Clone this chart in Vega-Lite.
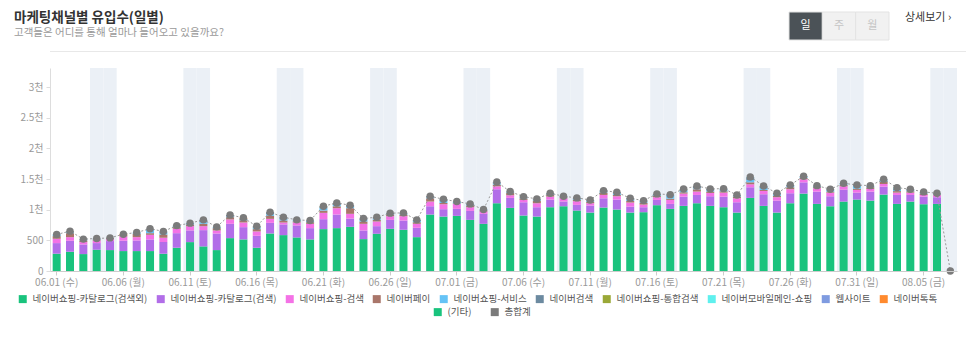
{
 "$schema": "https://vega.github.io/schema/vega-lite/v6.json",
 "background": "white",
 "padding": {"left": 14, "top": 11, "right": 0, "bottom": 0},
 "datasets": {
  "days": [
   {"d":"06.01 (수)","w":0,"a":282,"b":173,"c":70,"d2":44,"e":27},
   {"d":"06.02 (목)","w":0,"a":314,"b":179,"c":59,"d2":65,"e":15,"f":13,"g":5},
   {"d":"06.03 (금)","w":0,"a":276,"b":157,"c":38,"d2":27,"e":12,"f":10},
   {"d":"06.04 (토)","w":1,"a":347,"b":108,"c":43,"d2":17,"e":10,"f":5},
   {"d":"06.05 (일)","w":1,"a":341,"b":147,"c":32,"d2":16,"e":4},
   {"d":"06.06 (월)","w":0,"a":325,"b":168,"c":70,"d2":27,"j":10},
   {"d":"06.07 (화)","w":0,"a":325,"b":173,"c":54,"d2":55,"e":21},
   {"d":"06.08 (수)","w":0,"a":325,"b":190,"c":75,"d2":27,"e":58,"f":15},
   {"d":"06.09 (목)","w":0,"a":282,"b":189,"c":70,"d2":55,"e":32,"f":12,"i":6},
   {"d":"06.10 (금)","w":0,"a":379,"b":238,"c":71,"d2":27,"e":16,"f":9},
   {"d":"06.11 (토)","w":1,"a":471,"b":190,"c":70,"d2":27,"e":22},
   {"d":"06.12 (일)","w":1,"a":401,"b":265,"c":65,"d2":38,"f":38,"e":27},
   {"d":"06.13 (월)","w":0,"a":341,"b":271,"c":49,"d2":38,"e":21},
   {"d":"06.14 (화)","w":0,"a":536,"b":233,"c":71,"d2":38,"f":21,"e":16},
   {"d":"06.15 (수)","w":0,"a":515,"b":200,"c":76,"d2":32,"j":12,"f":32},
   {"d":"06.16 (목)","w":0,"a":379,"b":195,"c":71,"d2":38,"f":21,"e":26},
   {"d":"06.17 (금)","w":0,"a":612,"b":173,"c":65,"d2":49,"f":33,"e":27},
   {"d":"06.18 (토)","w":1,"a":585,"b":173,"c":33,"d2":32,"f":33,"e":21},
   {"d":"06.19 (일)","w":1,"a":547,"b":195,"c":49,"d2":20,"e":23},
   {"d":"06.20 (월)","w":0,"a":515,"b":184,"c":70,"d2":27,"e":27},
   {"d":"06.21 (화)","w":0,"a":683,"b":162,"c":103,"d2":38,"e":38,"f":27,"g":6},
   {"d":"06.22 (수)","w":0,"a":699,"b":222,"c":103,"d2":32,"e":20,"f":34},
   {"d":"06.23 (목)","w":0,"a":720,"b":136,"c":76,"d2":92,"f":27,"e":22},
   {"d":"06.24 (금)","w":0,"a":520,"b":141,"c":108,"d2":38,"e":27,"f":22},
   {"d":"06.25 (토)","w":1,"a":607,"b":124,"c":76,"d2":27,"e":20,"f":23},
   {"d":"06.26 (일)","w":1,"a":688,"b":146,"c":60,"d2":27,"e":12,"f":10},
   {"d":"06.27 (월)","w":0,"a":672,"b":151,"c":71,"d2":21,"e":20,"f":13},
   {"d":"06.28 (화)","w":0,"a":552,"b":152,"c":65,"d2":27,"e":20,"f":18},
   {"d":"06.29 (수)","w":0,"a":921,"b":135,"c":76,"d2":54,"e":15,"f":18},
   {"d":"06.30 (목)","w":0,"a":888,"b":120,"c":81,"d2":20,"e":32,"f":29},
   {"d":"07.01 (금)","w":0,"a":899,"b":114,"c":81,"d2":10,"e":22,"f":6},
   {"d":"07.02 (토)","w":1,"a":834,"b":146,"c":60,"d2":27,"e":15,"f":12},
   {"d":"07.03 (일)","w":1,"a":769,"b":163,"c":38,"d2":20,"e":12},
   {"d":"07.04 (월)","w":0,"a":1105,"b":228,"c":48,"d2":27,"e":20,"f":18,"i":6},
   {"d":"07.05 (화)","w":0,"a":1029,"b":163,"c":43,"d2":38,"e":12,"f":10},
   {"d":"07.06 (수)","w":0,"a":905,"b":216,"c":38,"d2":25,"e":15,"f":14},
   {"d":"07.07 (목)","w":0,"a":888,"b":152,"c":65,"d2":40,"e":20,"f":10},
   {"d":"07.08 (금)","w":0,"a":1040,"b":125,"c":48,"d2":27,"e":15,"f":13},
   {"d":"07.09 (토)","w":1,"a":1056,"b":76,"c":54,"d2":15,"e":10,"f":8},
   {"d":"07.10 (일)","w":1,"a":986,"b":92,"c":60,"d2":21,"e":18,"f":15},
   {"d":"07.11 (월)","w":0,"a":953,"b":114,"c":38,"d2":22,"e":18,"f":14},
   {"d":"07.12 (화)","w":0,"a":1035,"b":151,"c":54,"d2":38,"e":18,"f":15},
   {"d":"07.13 (수)","w":0,"a":1002,"b":163,"c":54,"d2":20,"e":27,"f":18},
   {"d":"07.14 (목)","w":0,"a":953,"b":98,"c":65,"d2":25,"e":27,"f":18},
   {"d":"07.15 (금)","w":0,"a":959,"b":81,"c":43,"d2":27,"e":22,"f":16},
   {"d":"07.16 (토)","w":1,"a":1073,"b":86,"c":44,"d2":21,"e":18,"f":15},
   {"d":"07.17 (일)","w":1,"a":1013,"b":81,"c":65,"d2":20,"e":54,"f":12},
   {"d":"07.18 (월)","w":0,"a":1062,"b":151,"c":49,"d2":22,"e":30,"f":19,"g":5},
   {"d":"07.19 (화)","w":0,"a":1105,"b":135,"c":55,"d2":38,"f":43,"e":11},
   {"d":"07.20 (수)","w":0,"a":1062,"b":157,"c":54,"d2":22,"e":25,"f":18},
   {"d":"07.21 (목)","w":0,"a":1040,"b":173,"c":65,"d2":22,"e":25,"f":18},
   {"d":"07.22 (금)","w":0,"a":953,"b":168,"c":65,"d2":27,"e":15,"f":12},
   {"d":"07.23 (토)","w":1,"a":1192,"b":173,"c":49,"d2":32,"f":44,"e":38,"h":6},
   {"d":"07.24 (일)","w":1,"a":1062,"b":189,"c":54,"d2":17,"e":33,"f":32},
   {"d":"07.25 (월)","w":0,"a":953,"b":195,"c":55,"d2":21,"e":25,"f":19},
   {"d":"07.26 (화)","w":0,"a":1105,"b":163,"c":65,"d2":32,"e":20,"f":18},
   {"d":"07.27 (수)","w":0,"a":1262,"b":184,"c":49,"d2":22,"e":15,"f":12},
   {"d":"07.28 (목)","w":0,"a":1094,"b":201,"c":54,"d2":18,"e":15,"f":10},
   {"d":"07.29 (금)","w":0,"a":1056,"b":163,"c":59,"d2":15,"e":27,"f":13},
   {"d":"07.30 (토)","w":1,"a":1132,"b":195,"c":54,"d2":22,"e":15,"f":12},
   {"d":"07.31 (일)","w":1,"a":1165,"b":113,"c":44,"d2":20,"e":48,"f":13},
   {"d":"08.01 (월)","w":0,"a":1148,"b":147,"c":43,"d2":27,"e":15,"f":12},
   {"d":"08.02 (화)","w":0,"a":1246,"b":130,"c":43,"d2":33,"e":25,"f":18},
   {"d":"08.03 (수)","w":0,"a":1094,"b":146,"c":38,"d2":25,"e":20,"h":15,"f":22},
   {"d":"08.04 (목)","w":0,"a":1132,"b":108,"c":38,"d2":22,"e":18,"f":15},
   {"d":"08.05 (금)","w":0,"a":1089,"b":124,"c":27,"d2":20,"e":15,"f":15},
   {"d":"08.06 (토)","w":1,"a":1094,"b":109,"c":32,"d2":15,"e":10,"f":8},
   {"d":"08.07 (일)","w":1,"a":0}
  ],
  "channels": [
   {"k":"a","name":"네이버쇼핑-카탈로그(검색외)","o":1},
   {"k":"b","name":"네이버쇼핑-카탈로그(검색)","o":2},
   {"k":"c","name":"네이버쇼핑-검색","o":3},
   {"k":"d2","name":"네이버페이","o":4},
   {"k":"e","name":"네이버쇼핑-서비스","o":5},
   {"k":"f","name":"네이버검색","o":6},
   {"k":"g","name":"네이버쇼핑-통합검색","o":7},
   {"k":"h","name":"네이버모바일메인-쇼핑","o":8},
   {"k":"i","name":"웹사이트","o":9},
   {"k":"j","name":"네이버톡톡","o":10}
  ],
  "header": [
   {"k":"t","text":"마케팅채널별 유입수(일별)"},
   {"k":"s","text":"고객들은 어디를 통해 얼마나 들어오고 있을까요?"}
  ],
  "buttons": [{"b":"일","on":1},{"b":"주","on":0},{"b":"월","on":0}],
  "link": [{"text":"상세보기 ›"}]
 },
 "vconcat": [
  {
   "vconcat": [
    {
     "hconcat": [
      {
       "width": 738, "height": 29,
       "data": {"name": "header"},
       "layer": [
        {
         "transform": [{"filter": "datum.k == 't'"}],
         "mark": {"type": "text", "align": "left", "baseline": "middle", "font": "Noto Sans CJK KR", "fontSize": 13.5, "fontWeight": "bold", "color": "#333333", "dx": -36, "dy": -1},
         "encoding": {
          "x": {"datum": 0, "type": "quantitative", "scale": {"domain": [0, 1]}, "axis": null},
          "y": {"field": "k", "type": "nominal", "scale": {"type": "point", "domain": ["t", "s"], "padding": 0.5}, "axis": null},
          "text": {"field": "text"}
         }
        },
        {
         "transform": [{"filter": "datum.k == 's'"}],
         "mark": {"type": "text", "align": "left", "baseline": "middle", "font": "Noto Sans CJK KR", "fontSize": 10.5, "color": "#9a9a9a", "dx": -36, "dy": -1},
         "encoding": {
          "x": {"datum": 0, "type": "quantitative", "scale": {"domain": [0, 1]}, "axis": null},
          "y": {"field": "k", "type": "nominal", "scale": {"type": "point", "domain": ["t", "s"], "padding": 0.5}, "axis": null},
          "text": {"field": "text"}
         }
        }
       ]
      },
      {
       "width": 100, "height": 28,
       "data": {"name": "buttons"},
       "encoding": {"x": {"field": "b", "type": "nominal", "sort": ["일", "주", "월"], "scale": {"paddingInner": 0, "paddingOuter": 0}, "axis": null}},
       "layer": [
        {
         "mark": {"type": "rect", "stroke": "#e3e3e3", "strokeWidth": 1},
         "encoding": {"fill": {"condition": {"test": "datum.on == 1", "value": "#4b5257"}, "value": "#f1f1f1"}}
        },
        {
         "mark": {"type": "text", "font": "Noto Sans CJK KR", "fontSize": 11},
         "encoding": {"text": {"field": "b"}, "color": {"condition": {"test": "datum.on == 1", "value": "#ffffff"}, "value": "#c4c4c4"}}
        }
       ]
      },
      {
       "width": 60, "height": 28,
       "data": {"name": "link"},
       "mark": {"type": "text", "align": "left", "font": "Noto Sans CJK KR", "fontSize": 11, "color": "#333333", "dx": 15, "dy": -8},
       "encoding": {
        "x": {"datum": 0, "type": "quantitative", "scale": {"domain": [0, 1]}, "axis": null},
        "text": {"field": "text"}
       }
      }
     ],
     "spacing": 0
    },
    {
     "width": 916, "height": 1,
     "data": {"values": []},
     "mark": {"type": "rule"},
     "encoding": {},
     "view": {"fill": "#e8e8e8", "stroke": null}
    }
   ],
   "spacing": 10
  },
  {
   "width": 907, "height": 203,
   "data": {"name": "days"},
   "encoding": {
    "x": {"field": "d", "type": "ordinal", "scale": {"paddingInner": 0, "paddingOuter": 0},
     "axis": {"title": null, "values": ["06.01 (수)","06.06 (월)","06.11 (토)","06.16 (목)","06.21 (화)","06.26 (일)","07.01 (금)","07.06 (수)","07.11 (월)","07.16 (토)","07.21 (목)","07.26 (화)","07.31 (일)","08.05 (금)"]}}
   },
   "layer": [
    {
     "transform": [{"filter": "datum.w == 1"}],
     "mark": {"type": "rect", "color": "#ebf0f6"},
     "encoding": {
      "y": {"datum": 3310, "type": "quantitative", "scale": {"domain": [0, 3310], "nice": false},
       "axis": {"title": null, "values": [0,500,1000,1500,2000,2500,3000], "labelExpr": "datum.value >= 1000 ? (datum.value / 1000) + '천' : datum.value"}},
      "y2": {"datum": 0}
     }
    },
    {
     "transform": [
      {"fold": ["a","b","c","d2","e","f","g","h","i","j"], "as": ["k","v"]},
      {"filter": "datum.v > 0"},
      {"lookup": "k", "from": {"data": {"name": "channels"}, "key": "k", "fields": ["name","o"]}}
     ],
     "mark": {"type": "bar", "width": {"band": 0.6}},
     "encoding": {
      "y": {"field": "v", "type": "quantitative", "stack": "zero", "scale": {"domain": [0, 3310], "nice": false},
       "axis": {"title": null, "values": [0,500,1000,1500,2000,2500,3000], "labelExpr": "datum.value >= 1000 ? (datum.value / 1000) + '천' : datum.value"}},
      "color": {"field": "name", "type": "nominal",
       "scale": {"domain": ["네이버쇼핑-카탈로그(검색외)","네이버쇼핑-카탈로그(검색)","네이버쇼핑-검색","네이버페이","네이버쇼핑-서비스","네이버검색","네이버쇼핑-통합검색","네이버모바일메인-쇼핑","웹사이트","네이버톡톡"],
        "range": ["#19c37d","#b26ee8","#f472e6","#a9766a","#65c3f6","#6c8aa0","#9aa837","#5ff0ee","#7f9be0","#ff8a2e"]},
       "legend": {"title": null, "orient": "none", "legendX": -32, "legendY": 282, "direction": "horizontal", "columns": 10, "symbolType": "square"}},
      "order": {"field": "o", "type": "quantitative"}
     }
    },
    {
     "transform": [
      {"fold": ["a","b","c","d2","e","f","g","h","i","j"], "as": ["k","v"]},
      {"aggregate": [{"op": "sum", "field": "v", "as": "t"}], "groupby": ["d"]}
     ],
     "mark": {"type": "line", "color": "#9a9a9a", "strokeWidth": 1, "strokeDash": [2, 2]},
     "encoding": {"y": {"field": "t", "type": "quantitative",
       "axis": {"title": null, "values": [0,500,1000,1500,2000,2500,3000], "labelExpr": "datum.value >= 1000 ? (datum.value / 1000) + '천' : datum.value"}}}
    },
    {
     "transform": [
      {"fold": ["a","b","c","d2","e","f","g","h","i","j"], "as": ["k","v"]},
      {"aggregate": [{"op": "sum", "field": "v", "as": "t"}], "groupby": ["d"]}
     ],
     "mark": {"type": "point", "filled": true, "size": 55, "opacity": 1},
     "encoding": {
      "y": {"field": "t", "type": "quantitative",
       "axis": {"title": null, "values": [0,500,1000,1500,2000,2500,3000], "labelExpr": "datum.value >= 1000 ? (datum.value / 1000) + '천' : datum.value"}},
      "fill": {"datum": "총합계", "type": "nominal", "scale": {"domain": ["(기타)", "총합계"], "range": ["#19c37d", "#7b7b7b"]},
       "legend": {"title": null, "orient": "none", "legendX": 383, "legendY": 295, "direction": "horizontal", "columns": 2, "symbolType": "square", "columnPadding": 18}}
     }
    }
   ]
  }
 ],
 "spacing": 16,
 "config": {
  "font": "Noto Sans CJK KR",
  "view": {"stroke": null},
  "axisY": {"labelFont": "Noto Sans CJK KR", "labelFontSize": 10, "labelColor": "#999999", "gridColor": "#efefef", "domainColor": "#dddddd", "tickColor": "#dddddd", "tickSize": 4, "labelPadding": 3, "labelOverlap": false},
  "axisX": {"labelFont": "Noto Sans CJK KR", "labelFontSize": 10, "labelColor": "#999999", "domainColor": "#cccccc", "tickColor": "#cccccc", "tickSize": 4, "labelAngle": 0, "labelPadding": 2, "grid": false, "labelOverlap": false},
  "legend": {"labelFont": "Noto Sans CJK KR", "labelFontSize": 9.5, "labelColor": "#555555", "symbolSize": 64, "symbolStrokeWidth": 0, "columnPadding": 8, "labelOffset": 5, "padding": 0}
 }
}
